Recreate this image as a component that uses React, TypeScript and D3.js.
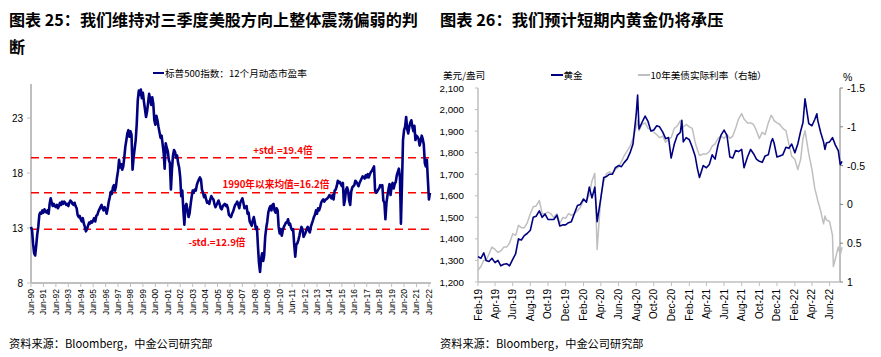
import React from "react";
import * as d3 from "d3";

// ---------- Left chart data: S&P 500 12m forward P/E, monthly from Jun-1990 ----------
const peStartYear = 1990;
const peStartMonth = 5; // June (0-based)
const peValues: number[] = [
  // 1990 Jun-Dec
  13.1, 12.8, 11.6, 10.7, 10.5, 11.4, 12.4,
  // 1991
  13.1, 14.2, 14.4, 14.3, 14.6, 14.4, 14.7, 14.5, 14.4, 14.6, 14.3, 15.2,
  // 1992
  15.7, 15.3, 15.0, 15.2, 15.0, 14.9, 15.1, 14.8, 15.0, 15.3, 15.1, 15.4,
  // 1993
  15.2, 15.4, 15.3, 15.1, 15.2, 15.0, 15.3, 15.5, 15.4, 15.2, 15.1, 15.3,
  // 1994
  15.0, 14.8, 14.2, 14.0, 14.1, 13.8, 13.6, 13.9, 13.4, 13.1, 12.7, 12.9,
  // 1995
  13.2, 13.5, 13.4, 13.6, 13.5, 13.7, 13.9, 13.6, 14.1, 14.2, 14.5, 14.7,
  // 1996
  14.9, 15.1, 14.8, 14.6, 14.9, 14.7, 14.3, 14.8, 15.4, 15.8, 16.3, 16.1,
  // 1997
  16.7, 16.9, 16.4, 16.8, 17.6, 18.2, 19.2, 18.5, 18.8, 18.3, 18.6, 19.4,
  // 1998
  20.4, 21.0, 21.6, 21.9, 21.3, 21.8, 21.5, 18.3, 19.4, 20.2, 21.0, 22.4,
  // 1999
  24.6, 25.5, 25.1, 25.6, 24.8, 25.3, 24.5, 23.8, 23.1, 23.6, 24.4, 25.2,
  // 2000
  24.7, 24.2, 24.9, 24.3, 22.8, 22.4, 23.2, 22.8, 22.2, 21.7, 21.2, 21.4,
  // 2001
  20.6, 19.8, 18.4, 20.7, 20.3, 20.0, 19.2, 18.9, 16.5, 18.3, 19.6, 20.1,
  // 2002
  19.9, 19.4, 19.6, 18.9, 18.5, 17.6, 15.9, 16.4, 14.6, 13.3, 15.0, 15.2,
  // 2003
  14.6, 14.0, 14.3, 15.1, 15.8, 16.4, 16.2, 16.5, 16.4, 16.9, 17.2, 17.4,
  // 2004
  17.6, 17.4, 16.5, 16.2, 15.8, 16.0, 15.6, 15.3, 15.4, 15.2, 15.6, 15.9,
  // 2005
  15.7, 15.6, 15.2, 14.9, 15.1, 15.3, 15.5, 15.2, 14.8, 14.7, 15.0, 15.1,
  // 2006
  15.2, 15.0, 15.1, 14.8, 14.2, 14.1, 14.0, 14.3, 14.5, 14.8, 15.1, 15.2,
  // 2007
  15.4, 15.1, 14.8, 15.3, 15.5, 15.7, 15.3, 14.8, 14.9, 15.0, 14.3, 14.4,
  // 2008
  13.6, 13.4, 13.2, 13.7, 14.0, 13.5, 12.9, 13.1, 11.3, 9.8, 9.0, 10.2,
  // 2009
  10.7, 10.0, 10.5, 12.2, 13.0, 13.6, 14.4, 14.8, 15.0, 14.6, 15.1, 15.2,
  // 2010
  14.6, 14.4, 14.8, 14.6, 13.1, 12.5, 12.9, 12.3, 12.8, 13.1, 13.3, 13.5,
  // 2011
  13.5, 13.8, 13.3, 13.4, 13.0, 12.8, 12.9, 11.5, 10.4, 11.5, 11.6, 11.9,
  // 2012
  12.3, 12.8, 13.1, 12.9, 12.2, 12.4, 12.6, 12.9, 13.1, 12.8, 12.6, 13.1,
  // 2013
  13.4, 13.7, 14.0, 14.2, 14.6, 14.3, 14.8, 14.6, 14.9, 15.3, 15.5, 15.6,
  // 2014
  15.4, 15.6, 15.6, 15.7, 15.8, 16.0, 15.9, 15.7, 16.0, 15.6, 16.4, 16.5,
  // 2015
  16.8, 17.3, 17.1, 17.2, 17.0, 16.8, 17.1, 15.1, 15.6, 16.5, 16.7, 16.4,
  // 2016
  15.5, 15.1, 16.3, 16.7, 16.8, 16.9, 17.3, 17.2, 17.0, 16.8, 17.1, 17.3,
  // 2017
  17.5, 17.7, 17.6, 17.5, 17.8, 17.6, 17.9, 17.6, 17.9, 18.1, 18.2, 18.4,
  // 2018
  18.6, 16.4, 16.2, 16.3, 16.5, 16.6, 16.9, 16.8, 16.9, 15.5, 15.3, 13.8,
  // 2019
  15.3, 16.0, 16.5, 17.0, 16.0, 16.8, 17.1, 16.6, 17.0, 17.2, 17.8, 18.1,
  // 2020
  18.4, 17.6, 13.4, 17.0, 21.0, 21.9, 22.2, 23.1, 22.0, 21.6, 22.2, 22.6,
  // 2021
  22.8, 22.2, 21.8, 22.3, 21.0, 21.4, 21.3, 21.1, 20.5, 20.9, 21.4, 21.1,
  // 2022 Jan-Jul
  20.6, 18.9, 18.6, 19.2, 17.4, 15.6, 16.2,
];
const peMean = 16.2;
const pePlusStd = 19.4;
const peMinusStd = 12.9;
const peYTicks = [8, 13, 18, 23];
const peTickYears = d3.range(1990, 2023);

// ---------- Right chart data: gold price (USD/oz) and 10Y US real yield (%) ----------
const goldData: [string, number][] = [
  ["2019-02-01", 1318], ["2019-02-11", 1310], ["2019-02-21", 1335],
  ["2019-03-01", 1300], ["2019-03-11", 1295], ["2019-03-21", 1310],
  ["2019-04-01", 1290], ["2019-04-11", 1300], ["2019-04-21", 1275],
  ["2019-05-01", 1282], ["2019-05-11", 1285], ["2019-05-21", 1275],
  ["2019-06-01", 1305], ["2019-06-11", 1330], ["2019-06-21", 1400],
  ["2019-07-01", 1395], ["2019-07-11", 1415], ["2019-07-21", 1425],
  ["2019-08-01", 1440], ["2019-08-11", 1500], ["2019-08-21", 1505],
  ["2019-09-01", 1530], ["2019-09-11", 1500], ["2019-09-21", 1515],
  ["2019-10-01", 1490], ["2019-10-11", 1490], ["2019-10-21", 1490],
  ["2019-11-01", 1510], ["2019-11-11", 1460], ["2019-11-21", 1465],
  ["2019-12-01", 1465], ["2019-12-11", 1475], ["2019-12-21", 1480],
  ["2020-01-01", 1520], ["2020-01-11", 1555], ["2020-01-21", 1560],
  ["2020-02-01", 1585], ["2020-02-11", 1570], ["2020-02-21", 1640],
  ["2020-03-01", 1590], ["2020-03-11", 1640], ["2020-03-19", 1480],
  ["2020-04-01", 1590], ["2020-04-11", 1685], ["2020-04-21", 1690],
  ["2020-05-01", 1700], ["2020-05-11", 1700], ["2020-05-21", 1730],
  ["2020-06-01", 1740], ["2020-06-11", 1735], ["2020-06-21", 1755],
  ["2020-07-01", 1770], ["2020-07-11", 1800], ["2020-07-21", 1840],
  ["2020-08-01", 1975], ["2020-08-06", 2067], ["2020-08-11", 1910], ["2020-08-21", 1940],
  ["2020-09-01", 1970], ["2020-09-11", 1945], ["2020-09-21", 1900],
  ["2020-10-01", 1905], ["2020-10-11", 1925], ["2020-10-21", 1920],
  ["2020-11-01", 1895], ["2020-11-11", 1865], ["2020-11-21", 1870], ["2020-11-30", 1775],
  ["2020-12-11", 1840], ["2020-12-21", 1880],
  ["2021-01-01", 1895], ["2021-01-06", 1950], ["2021-01-11", 1850], ["2021-01-21", 1870],
  ["2021-02-01", 1860], ["2021-02-11", 1825], ["2021-02-21", 1785],
  ["2021-03-01", 1725], ["2021-03-08", 1685], ["2021-03-21", 1740],
  ["2021-04-01", 1730], ["2021-04-11", 1745], ["2021-04-21", 1790],
  ["2021-05-01", 1770], ["2021-05-11", 1835], ["2021-05-21", 1880],
  ["2021-06-01", 1905], ["2021-06-11", 1880], ["2021-06-21", 1780],
  ["2021-07-01", 1775], ["2021-07-11", 1810], ["2021-07-21", 1805],
  ["2021-08-01", 1815], ["2021-08-09", 1730], ["2021-08-21", 1780],
  ["2021-09-01", 1815], ["2021-09-11", 1795], ["2021-09-21", 1770],
  ["2021-10-01", 1760], ["2021-10-11", 1755], ["2021-10-21", 1785],
  ["2021-11-01", 1790], ["2021-11-11", 1850], ["2021-11-16", 1865], ["2021-11-21", 1845],
  ["2021-12-01", 1780], ["2021-12-11", 1785], ["2021-12-21", 1790],
  ["2022-01-01", 1825], ["2022-01-11", 1820], ["2022-01-21", 1840],
  ["2022-02-01", 1800], ["2022-02-11", 1840], ["2022-02-21", 1900],
  ["2022-03-01", 1940], ["2022-03-08", 2050], ["2022-03-21", 1935],
  ["2022-04-01", 1925], ["2022-04-11", 1955], ["2022-04-18", 1980], ["2022-04-21", 1950],
  ["2022-05-01", 1895], ["2022-05-11", 1850], ["2022-05-16", 1815], ["2022-05-21", 1845],
  ["2022-06-01", 1850], ["2022-06-11", 1870], ["2022-06-21", 1835],
  ["2022-07-01", 1810], ["2022-07-08", 1745], ["2022-07-14", 1760],
];
const realYieldData: [string, number][] = [
  ["2019-02-01", 0.85], ["2019-02-11", 0.8], ["2019-02-21", 0.72],
  ["2019-03-01", 0.72], ["2019-03-11", 0.64], ["2019-03-21", 0.55],
  ["2019-04-01", 0.58], ["2019-04-11", 0.62], ["2019-04-21", 0.6],
  ["2019-05-01", 0.55], ["2019-05-11", 0.55], ["2019-05-21", 0.5],
  ["2019-06-01", 0.38], ["2019-06-11", 0.4], ["2019-06-21", 0.27],
  ["2019-07-01", 0.3], ["2019-07-11", 0.3], ["2019-07-21", 0.24],
  ["2019-08-01", 0.12], ["2019-08-11", 0.03], ["2019-08-21", 0.02],
  ["2019-09-01", -0.05], ["2019-09-11", 0.12], ["2019-09-21", 0.12],
  ["2019-10-01", 0.1], ["2019-10-11", 0.12], ["2019-10-21", 0.17],
  ["2019-11-01", 0.12], ["2019-11-11", 0.25], ["2019-11-21", 0.17],
  ["2019-12-01", 0.18], ["2019-12-11", 0.12], ["2019-12-21", 0.14],
  ["2020-01-01", 0.12], ["2020-01-11", 0.08], ["2020-01-21", 0.04],
  ["2020-02-01", -0.05], ["2020-02-11", -0.05], ["2020-02-21", -0.12],
  ["2020-03-01", -0.3], ["2020-03-11", -0.4], ["2020-03-19", 0.58],
  ["2020-04-01", -0.1], ["2020-04-11", -0.3], ["2020-04-21", -0.4],
  ["2020-05-01", -0.42], ["2020-05-11", -0.4], ["2020-05-21", -0.45],
  ["2020-06-01", -0.48], ["2020-06-11", -0.55], ["2020-06-21", -0.63],
  ["2020-07-01", -0.69], ["2020-07-11", -0.75], ["2020-07-21", -0.85],
  ["2020-08-01", -1.0], ["2020-08-06", -1.08], ["2020-08-11", -0.95], ["2020-08-21", -1.03],
  ["2020-09-01", -1.05], ["2020-09-11", -0.98], ["2020-09-21", -0.96],
  ["2020-10-01", -0.93], ["2020-10-11", -0.9], ["2020-10-21", -0.86],
  ["2020-11-01", -0.88], ["2020-11-11", -0.8], ["2020-11-21", -0.84], ["2020-11-30", -0.86],
  ["2020-12-11", -0.98], ["2020-12-21", -1.01],
  ["2021-01-01", -1.08], ["2021-01-06", -1.02], ["2021-01-11", -1.0], ["2021-01-21", -1.03],
  ["2021-02-01", -1.0], ["2021-02-11", -0.98], ["2021-02-21", -0.8],
  ["2021-03-01", -0.7], ["2021-03-08", -0.63], ["2021-03-21", -0.65],
  ["2021-04-01", -0.65], ["2021-04-11", -0.68], ["2021-04-21", -0.75],
  ["2021-05-01", -0.78], ["2021-05-11", -0.85], ["2021-05-21", -0.88],
  ["2021-06-01", -0.85], ["2021-06-11", -0.9], ["2021-06-21", -0.85],
  ["2021-07-01", -0.88], ["2021-07-11", -0.98], ["2021-07-21", -1.1],
  ["2021-08-01", -1.17], ["2021-08-09", -1.1], ["2021-08-21", -1.05],
  ["2021-09-01", -1.05], ["2021-09-11", -1.03], ["2021-09-21", -0.95],
  ["2021-10-01", -0.85], ["2021-10-11", -0.93], ["2021-10-21", -0.9],
  ["2021-11-01", -1.05], ["2021-11-11", -1.15], ["2021-11-16", -1.12], ["2021-11-21", -1.08],
  ["2021-12-01", -1.05], ["2021-12-11", -1.03], ["2021-12-21", -0.98],
  ["2022-01-01", -0.95], ["2022-01-11", -0.78], ["2022-01-21", -0.62],
  ["2022-02-01", -0.58], ["2022-02-11", -0.45], ["2022-02-21", -0.58],
  ["2022-03-01", -0.85], ["2022-03-08", -0.95], ["2022-03-21", -0.65],
  ["2022-04-01", -0.45], ["2022-04-11", -0.2], ["2022-04-18", -0.1], ["2022-04-21", -0.05],
  ["2022-05-01", 0.08], ["2022-05-11", 0.25], ["2022-05-16", 0.15], ["2022-05-21", 0.2],
  ["2022-06-01", 0.22], ["2022-06-11", 0.4], ["2022-06-14", 0.8], ["2022-06-21", 0.7],
  ["2022-07-01", 0.55], ["2022-07-08", 0.65], ["2022-07-14", 0.55],
];
const goldTicks = [1200, 1300, 1400, 1500, 1600, 1700, 1800, 1900, 2000, 2100];
const yieldTicks = [-1.5, -1, -0.5, 0, 0.5, 1];

const CJK = "'Noto Sans CJK SC', 'Liberation Sans', Arial, sans-serif";
const LAT = "'Liberation Sans', Arial, 'Noto Sans CJK SC', sans-serif";
const NAVY = "#000080";
const RED = "#ff0000";
const AXIS = "#bfbfbf";

const parse = d3.timeParse("%Y-%m-%d");
const monFmt = d3.timeFormat("%b-%y");

function LeftChart() {
  const x0 = 31, x1 = 431, yTop = 84, yBot = 283;
  const x = d3.scaleTime().domain([new Date(1990, 5, 1), new Date(2022, 7, 1)]).range([x0, x1]);
  const y = d3.scaleLinear().domain([8, 26.1]).range([yBot, yTop]);
  const pts = peValues.map((v, i) => ({ d: new Date(peStartYear, peStartMonth + i, 1), v }));
  const line = d3.line<{ d: Date; v: number }>().x((p) => x(p.d)).y((p) => y(p.v));
  const tickDates = peTickYears.map((yr) => new Date(yr, 5, 1));
  const hlines = [pePlusStd, peMean, peMinusStd];
  return (
    <g>
      <text x={9} y={26} fontFamily={CJK} fontWeight="bold" fontSize={16.1} fill="#000">
        图表 25：我们维持对三季度美股方向上整体震荡偏弱的判
      </text>
      <text x={9} y={53} fontFamily={CJK} fontWeight="bold" fontSize={16.1} fill="#000">断</text>
      {/* legend */}
      <line x1={153} x2={164} y1={73} y2={73} stroke={NAVY} strokeWidth={2} />
      <text x={165} y={76.5} fontFamily={CJK} fontSize={9.6} fill="#000">标普500指数：12个月动态市盈率</text>
      {/* y axis */}
      <line x1={x0} x2={x0} y1={yTop} y2={yBot} stroke={AXIS} strokeWidth={2} />
      {peYTicks.map((t) => (
        <g key={t}>
          <line x1={x0 - 4} x2={x0} y1={y(t)} y2={y(t)} stroke={AXIS} strokeWidth={1} />
          <text x={23} y={y(t) + 3.5} textAnchor="end" fontFamily={LAT} fontSize={10} fill="#000">{t}</text>
        </g>
      ))}
      {/* x axis */}
      <line x1={x0} x2={x1} y1={yBot} y2={yBot} stroke={AXIS} strokeWidth={2} />
      {tickDates.map((d) => (
        <g key={+d}>
          <line x1={x(d)} x2={x(d)} y1={yBot} y2={yBot + 4} stroke={AXIS} strokeWidth={1} />
          <text transform={`translate(${x(d) + 3},${yBot + 6}) rotate(-90)`} textAnchor="end"
            fontFamily={LAT} fontSize={8.5} fill="#000">{monFmt(d)}</text>
        </g>
      ))}
      {/* reference lines */}
      {hlines.map((h) => (
        <line key={h} x1={x0} x2={x1} y1={y(h)} y2={y(h)} stroke={RED} strokeWidth={1.5} strokeDasharray="8,5" />
      ))}
      <path d={line(pts) || ""} fill="none" stroke={NAVY} strokeWidth={2.6} strokeLinejoin="round" />
      <text x={283} y={y(pePlusStd) - 4} textAnchor="middle" fontFamily={CJK} fontWeight="bold" fontSize={9.7} fill={RED}>+std.=19.4倍</text>
      <text x={276} y={y(peMean) - 5} textAnchor="middle" fontFamily={CJK} fontWeight="bold" fontSize={9.7} fill={RED}>1990年以来均值=16.2倍</text>
      <text x={217} y={y(peMinusStd) + 17} textAnchor="middle" fontFamily={CJK} fontWeight="bold" fontSize={9.7} fill={RED}>-std.=12.9倍</text>
      <text x={9} y={348} fontFamily={CJK} fontSize={11.2} fill="#000">资料来源：Bloomberg，中金公司研究部</text>
    </g>
  );
}

function RightChart() {
  const x0 = 478, x1 = 840, yTop = 88, yBot = 282;
  const x = d3.scaleTime().domain([new Date(2019, 1, 1), new Date(2022, 6, 7)]).range([x0, x1]);
  const yG = d3.scaleLinear().domain([1200, 2100]).range([yBot, yTop]);
  const yR = d3.scaleLinear().domain([1, -1.5]).range([yBot, yTop]);
  const gold = goldData.map(([d, v]) => ({ d: parse(d) as Date, v }));
  const ry = realYieldData.map(([d, v]) => ({ d: parse(d) as Date, v }));
  const lineG = d3.line<{ d: Date; v: number }>().x((p) => x(p.d)).y((p) => yG(p.v));
  const lineR = d3.line<{ d: Date; v: number }>().x((p) => x(p.d)).y((p) => yR(p.v));
  const tickDates = d3.timeMonth.range(new Date(2019, 1, 1), new Date(2022, 6, 2), 2);
  const gFmt = d3.format(",");
  return (
    <g>
      <text x={440} y={26} fontFamily={CJK} fontWeight="bold" fontSize={16.3} fill="#000">
        图表 26：我们预计短期内黄金仍将承压
      </text>
      <text x={443} y={79} fontFamily={CJK} fontSize={9.6} fill="#000">美元/盎司</text>
      <text x={843} y={81} fontFamily={LAT} fontSize={10.5} fill="#000">%</text>
      {/* legend */}
      <line x1={551} x2={563} y1={75} y2={75} stroke={NAVY} strokeWidth={2} />
      <text x={563.5} y={78.5} fontFamily={CJK} fontSize={9.6} fill="#000">黄金</text>
      <line x1={638} x2={650} y1={75} y2={75} stroke={AXIS} strokeWidth={2} />
      <text x={650.5} y={78.5} fontFamily={CJK} fontSize={9.6} fill="#000">10年美债实际利率（右轴）</text>
      {/* left axis */}
      <line x1={x0} x2={x0} y1={yTop} y2={yBot} stroke={AXIS} strokeWidth={1.5} />
      {goldTicks.map((t) => (
        <g key={t}>
          <line x1={x0 - 3} x2={x0} y1={yG(t)} y2={yG(t)} stroke={AXIS} strokeWidth={1} />
          <text x={464} y={yG(t) + 3.5} textAnchor="end" fontFamily={LAT} fontSize={9.8} fill="#000">{gFmt(t)}</text>
        </g>
      ))}
      {/* right axis */}
      <line x1={x1} x2={x1} y1={yTop} y2={yBot} stroke="#808080" strokeWidth={1} />
      {yieldTicks.map((t) => (
        <g key={t}>
          <line x1={x1} x2={x1 + 3} y1={yR(t)} y2={yR(t)} stroke="#808080" strokeWidth={1} />
          <text x={847} y={yR(t) + 4} fontFamily={LAT} fontSize={10.5} fill="#000">{String(t)}</text>
        </g>
      ))}
      {/* x axis */}
      <line x1={x0} x2={x1} y1={yBot} y2={yBot} stroke={AXIS} strokeWidth={1.5} />
      {tickDates.map((d) => (
        <g key={+d}>
          <line x1={x(d)} x2={x(d)} y1={yBot} y2={yBot + 4} stroke={AXIS} strokeWidth={1} />
          <text transform={`translate(${x(d) + 3.5},${yBot + 7}) rotate(-90)`} textAnchor="end"
            fontFamily={LAT} fontSize={10} fill="#000">{monFmt(d)}</text>
        </g>
      ))}
      <path d={lineR(ry) || ""} fill="none" stroke={AXIS} strokeWidth={1.5} strokeLinejoin="round" />
      <path d={lineG(gold) || ""} fill="none" stroke={NAVY} strokeWidth={1.6} strokeLinejoin="round" />
      <text x={440} y={348} fontFamily={CJK} fontSize={11.2} fill="#000">资料来源：Bloomberg，中金公司研究部</text>
    </g>
  );
}

export default function App() {
  return (
    <svg width={881} height={357} style={{ position: "absolute", left: 0, top: 0, background: "#fff" }}>
      <rect x={0} y={0} width={881} height={357} fill="#fff" />
      <LeftChart />
      <RightChart />
    </svg>
  );
}
